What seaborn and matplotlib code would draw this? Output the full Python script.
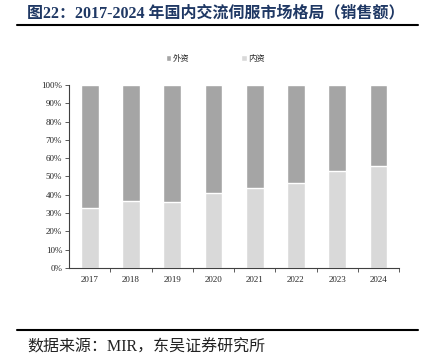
import pandas as pd
import matplotlib
matplotlib.use("Agg")
import matplotlib.pyplot as plt
import seaborn as sns
from matplotlib.ticker import PercentFormatter, FixedLocator

### data (share of sales)
years = ['2017', '2018', '2019', '2020', '2021', '2022', '2023', '2024']
domestic = [0.328, 0.365, 0.360, 0.409, 0.438, 0.462, 0.532, 0.555]
foreign = [0.672, 0.635, 0.640, 0.591, 0.562, 0.538, 0.468, 0.445]

sns.set_style("white")
plt.rcParams['font.family'] = ['Liberation Serif', 'Noto Sans CJK SC', 'DejaVu Sans']

df = pd.DataFrame({'year': years, 'domestic': domestic, 'foreign': foreign})
df['total'] = df['domestic'] + df['foreign']

fig = plt.figure(figsize=(4.21, 3.61), dpi=100)
ax = fig.add_axes([0.164, 0.2576, 0.784, 0.507])

# stacked bars: total first (foreign colour), domestic on top of it
sns.barplot(x='year', y='total', data=df, color='#a5a5a5', width=0.43,
            saturation=1, ax=ax, label='外资')
sns.barplot(x='year', y='domestic', data=df, color='#d9d9d9', width=0.43,
            saturation=1, ax=ax, label='内资')

ax.set_ylim(0, 1)
ax.set_xlim(-0.5, 7.5)
ax.set_xlabel('')
ax.set_ylabel('')
ax.yaxis.set_major_locator(FixedLocator([i / 10 for i in range(11)]))
ax.yaxis.set_major_formatter(PercentFormatter(1.0, decimals=0))

for s in ['top', 'right']:
    ax.spines[s].set_visible(False)
for s in ['left', 'bottom']:
    ax.spines[s].set_color('#404040')
    ax.spines[s].set_linewidth(0.8)

ax.tick_params(axis='y', labelsize=6.5, length=3, width=0.6, color='#404040',
               direction='out', left=True, pad=2)
ax.tick_params(axis='x', labelsize=6.5, length=0, pad=6)
# small ticks between categories
ax.set_xticks([i + 0.5 for i in range(8)], minor=True)
ax.tick_params(axis='x', which='minor', length=3, width=0.6, color='#404040',
               direction='out', bottom=True)
for lab in ax.get_yticklabels() + ax.get_xticklabels():
    lab.set_family(['Liberation Serif'])

leg = ax.legend(loc='lower left', bbox_to_anchor=(0.27, 1.08), ncol=2,
                frameon=False, fontsize=6, handlelength=0.7, handleheight=0.7,
                handletextpad=0.2, columnspacing=6.1)

# title and footer
fig.text(0.064, 0.962, '图22：2017-2024 年国内交流伺服市场格局（销售额）',
         fontsize=11.5, fontweight='bold', color='#1f3864', va='center',
         family=['Liberation Serif', 'Noto Sans CJK SC'])
fig.add_artist(plt.Line2D([0.04, 0.993], [0.93, 0.93], color='black', lw=1.5))
fig.add_artist(plt.Line2D([0.04, 0.993], [0.087, 0.087], color='black', lw=1.5))
fig.text(0.064, 0.036, '数据来源：MIR，东吴证券研究所', fontsize=11.5,
         color='#222222', va='center',
         family=['Liberation Serif', 'Noto Sans CJK SC'])

plt.savefig('out.png', dpi=100)
